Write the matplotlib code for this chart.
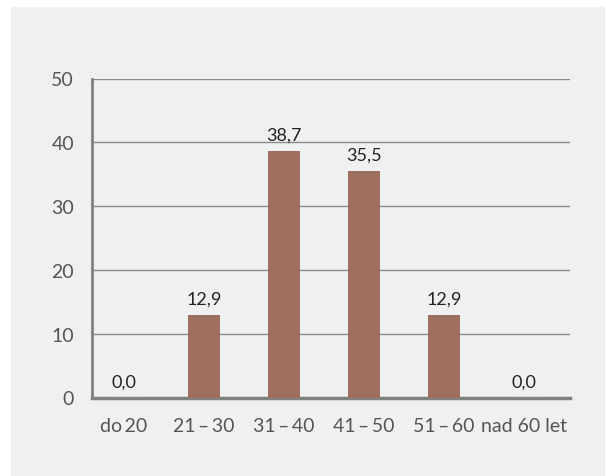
import matplotlib
matplotlib.use('Agg')
import matplotlib.pyplot as plt
from matplotlib.patches import Rectangle

# Age groups and share of respondents (%)
categories = ['do\u200920', '21\u2009\u2013\u200930', '31\u2009\u2013\u200940',
              '41\u2009\u2013\u200950', '51\u2009\u2013\u200960', 'nad 60 let']
values = [0.0, 12.9, 38.7, 35.5, 12.9, 0.0]
value_labels = ['0,0', '12,9', '38,7', '35,5', '12,9', '0,0']
y_ticks = [0, 10, 20, 30, 40, 50]

plt.rcParams['font.family'] = ['Lato', 'DejaVu Sans']

fig = plt.figure(figsize=(6.06, 4.77), dpi=100)
fig.patch.set_facecolor('white')
# grey panel behind the chart
fig.add_artist(Rectangle((11/606, 0), 594/606, 469/477, transform=fig.transFigure,
                         facecolor='#eff0f2', edgecolor='none', zorder=-5))

ax = fig.add_axes([92/606, 1 - 398.5/477, 478/606, 319/477])
ax.set_facecolor('none')

x = range(len(categories))
ax.bar(x, values, width=0.4, color='#9f6f5e', edgecolor='none', zorder=3)
# zero-value bars show as a thin line on the axis
for i, v in enumerate(values):
    if v == 0:
        ax.plot([i - 0.2, i + 0.2], [0, 0], color='#b89a70', lw=1, zorder=4)

for i, (v, lab) in enumerate(zip(values, value_labels)):
    ax.annotate(lab, (i, v), xytext=(0, 6), textcoords='offset points',
                ha='center', va='bottom', fontsize=13, color='#222222')

ax.set_xlim(-0.4, 5.575)
ax.set_ylim(0, 50)
ax.set_yticks(y_ticks)
ax.set_yticklabels([str(t) for t in y_ticks])
ax.set_xticks(list(x))
ax.set_xticklabels(categories)
ax.tick_params(axis='both', length=0, labelsize=14, labelcolor='#555555')
ax.tick_params(axis='y', pad=13)
ax.tick_params(axis='x', pad=14)

ax.grid(axis='y', color='#8a8a8a', lw=1)
ax.set_axisbelow(True)
for s in ['top', 'right']:
    ax.spines[s].set_visible(False)
ax.spines['left'].set_color('#808080')
ax.spines['left'].set_linewidth(2)
ax.spines['bottom'].set_color('#808080')
ax.spines['bottom'].set_linewidth(2.5)
ax.spines['bottom'].set_zorder(2)

fig.savefig('out.png', dpi=100, facecolor='white')
